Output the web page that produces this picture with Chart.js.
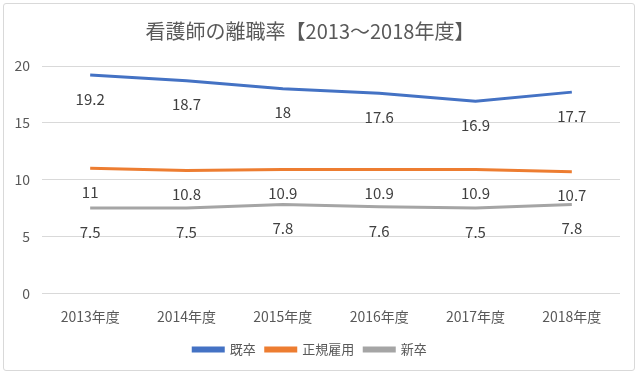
<!DOCTYPE html>
<html>
<head>
<meta charset="utf-8">
<script src="https://cdn.jsdelivr.net/npm/chart.js@4"></script>
<style>
  html, body { margin: 0; padding: 0; background: #fff; }
  #wrap {
    position: absolute; left: 3px; top: 3px; width: 632px; height: 368px;
    border: 1px solid #d9d9d9; border-radius: 3px; box-sizing: border-box;
  }
  #c { position: absolute; left: 0; top: 0; }
</style>
</head>
<body>
<div id="wrap"></div>
<canvas id="c" width="640" height="376"></canvas>
<script>
const years = ['2013年度', '2014年度', '2015年度', '2016年度', '2017年度', '2018年度'];
const kisotsu = [19.2, 18.7, 18, 17.6, 16.9, 17.7];
const seiki = [11, 10.8, 10.9, 10.9, 10.9, 10.7];
const shinsotsu = [7.5, 7.5, 7.8, 7.6, 7.5, 7.8];
const yTicks = [0, 5, 10, 15, 20];

const fontFamily = '"Noto Sans CJK JP", "Noto Sans", sans-serif';

// value labels drawn under each point
const valueLabels = {
  id: 'valueLabels',
  afterDatasetsDraw(chart) {
    const ctx = chart.ctx;
    ctx.save();
    ctx.font = '15px ' + fontFamily;
    ctx.fillStyle = '#404040';
    ctx.textAlign = 'center';
    ctx.textBaseline = 'middle';
    chart.data.datasets.forEach((ds, i) => {
      const meta = chart.getDatasetMeta(i);
      meta.data.forEach((pt, j) => {
        ctx.fillText(String(ds.data[j]), pt.x, pt.y + 24);
      });
    });
    ctx.restore();
  }
};

new Chart(document.getElementById('c'), {
  type: 'line',
  data: {
    labels: years,
    datasets: [
      { label: '既卒', data: kisotsu, borderColor: '#4472C4', backgroundColor: '#4472C4' },
      { label: '正規雇用', data: seiki, borderColor: '#ED7D31', backgroundColor: '#ED7D31' },
      { label: '新卒', data: shinsotsu, borderColor: '#A5A5A5', backgroundColor: '#A5A5A5' }
    ]
  },
  options: {
    responsive: false,
    animation: false,
    devicePixelRatio: 1,
    elements: {
      line: { borderWidth: 3, tension: 0 },
      point: { radius: 0, hoverRadius: 0 }
    },
    layout: { padding: { left: 0, right: 20, top: 0, bottom: 10 } },
    plugins: {
      title: {
        display: true,
        text: '看護師の離職率【2013～2018年度】',
        color: '#595959',
        font: { family: fontFamily, size: 20, weight: 'normal' },
        padding: { top: 19, bottom: 23 }
      },
      legend: {
        position: 'bottom',
        labels: {
          color: '#595959',
          font: { family: fontFamily, size: 13 },
          boxWidth: 30,
          boxHeight: 3,
          padding: 10
        }
      },
      tooltip: { enabled: false }
    },
    scales: {
      x: {
        offset: true,
        afterFit(scale) { scale.height += 1; },
        grid: { display: false },
        border: { display: false },
        ticks: { color: '#595959', font: { family: fontFamily, size: 14 }, padding: 7 }
      },
      y: {
        min: 0,
        max: 20,
        afterBuildTicks(scale) { scale.ticks = yTicks.map(v => ({ value: v })); },
        afterFit(scale) { scale.width = 42; },
        grid: { color: '#d9d9d9', drawTicks: false },
        border: { display: false },
        ticks: { color: '#595959', font: { family: fontFamily, size: 14 }, padding: 12 }
      }
    }
  },
  plugins: [valueLabels]
});
</script>
</body>
</html>
